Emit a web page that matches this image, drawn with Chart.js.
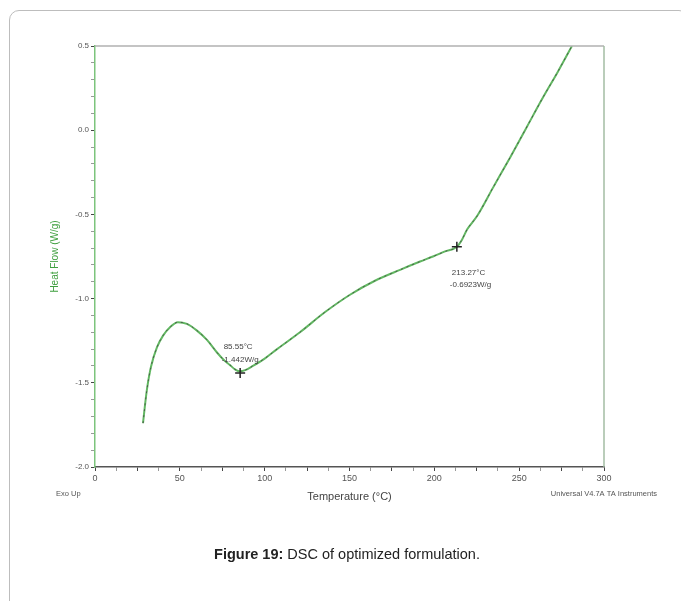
<!DOCTYPE html>
<html>
<head>
<meta charset="utf-8">
<script src="https://cdn.jsdelivr.net/npm/chart.js@4.4.1/dist/chart.umd.min.js"></script>
<style>
  body { margin: 0; background: #fff; }
  #frame { position: absolute; left: 9px; top: 10px; width: 680px; height: 640px;
           border: 1px solid #bdbdbd; border-radius: 10px; box-sizing: border-box; }
  #wrap { position: absolute; left: 0; top: 0; width: 681px; height: 601px; }
  #caption { position: absolute; left: 0; width: 694px; top: 546px; text-align: center;
             font-family: "Liberation Sans", Arial, sans-serif; font-size: 14.5px; color: #222; }
</style>
</head>
<body>
<div id="frame"></div>
<div id="wrap"><canvas id="dsc" width="681" height="601"></canvas></div>
<div id="caption"><b>Figure 19:</b> DSC of optimized formulation.</div>
<script>
// temperature (°C) and heat flow (W/g)
const temperature = [28.3, 29.5, 30.6, 33.0, 36.5, 40.1, 44.2, 48.9, 54.2, 60.1, 66.0, 71.9, 75.5, 79.6,
  82.5, 85.5, 88.5, 93.0, 100.2, 107.3, 120.8, 135.6, 150.3, 165.0, 179.8, 191.6, 199.2, 206.3, 213.3,
  216.3, 219.3, 225.2, 234.6, 244.6, 254.6, 264.0, 272.9, 281.1];
const heatFlow = [-1.74, -1.63, -1.54, -1.405, -1.29, -1.22, -1.17, -1.14, -1.15, -1.19, -1.245, -1.32,
  -1.36, -1.395, -1.42, -1.432, -1.425, -1.40, -1.355, -1.30, -1.20, -1.08, -0.977, -0.894, -0.829,
  -0.78, -0.75, -0.72, -0.692, -0.65, -0.59, -0.51, -0.341, -0.163, 0.021, 0.194, 0.349, 0.5];

// marked points
const markTemps = [85.55, 213.27];
const markFlows = [-1.442, -0.6923];
const markLabels = [['85.55°C', '-1.442W/g'], ['213.27°C', '-0.6923W/g']];

const trace = temperature.map((t, i) => ({ x: t, y: heatFlow[i] }));
const marks = markTemps.map((t, i) => ({ x: t, y: markFlows[i] }));

const textFont = '8px "Liberation Sans", Arial, sans-serif';

const extras = {
  id: 'extras',
  afterDraw(chart) {
    const { ctx, chartArea: a, scales } = chart;
    ctx.save();
    // top and right frame lines
    ctx.lineWidth = 1.5;
    ctx.strokeStyle = '#b0b0b0';
    ctx.beginPath(); ctx.moveTo(a.left, a.top); ctx.lineTo(a.right, a.top); ctx.stroke();
    ctx.strokeStyle = '#a3bca3';
    ctx.beginPath(); ctx.moveTo(a.right, a.top); ctx.lineTo(a.right, a.bottom); ctx.stroke();

    // point labels
    ctx.font = textFont;
    ctx.fillStyle = '#444';
    ctx.textBaseline = 'middle';
    markTemps.forEach((t, i) => {
      const px = scales.x.getPixelForValue(t);
      const py = scales.y.getPixelForValue(markFlows[i]);
      if (i === 0) {
        ctx.textAlign = 'center';
        ctx.fillText(markLabels[i][0], px - 2, py - 26);
        ctx.fillText(markLabels[i][1], px, py - 13);
      } else {
        ctx.textAlign = 'left';
        ctx.fillText(markLabels[i][0], px - 5, py + 26);
        ctx.fillText(markLabels[i][1], px - 7, py + 38);
      }
    });

    // instrument footer
    ctx.font = '7.5px "Liberation Sans", Arial, sans-serif';
    ctx.fillStyle = '#555';
    ctx.textAlign = 'left';
    ctx.fillText('Exo Up', a.left - 39, a.bottom + 27);
    ctx.textAlign = 'right';
    ctx.fillText('Universal V4.7A TA Instruments', a.right + 53, a.bottom + 27);
    ctx.restore();
  }
};

const isMultiple = (v, step) => Math.abs(v / step - Math.round(v / step)) < 1e-6;

new Chart(document.getElementById('dsc'), {
  type: 'line',
  data: {
    datasets: [
      {
        data: trace,
        borderColor: '#62b862',
        borderWidth: 2,
        pointRadius: 0,
        cubicInterpolationMode: 'monotone',
        order: 3
      },
      {
        data: trace,
        borderColor: '#4a5a4a',
        borderWidth: 1,
        borderDash: [2, 4],
        pointRadius: 0,
        cubicInterpolationMode: 'monotone',
        order: 2
      },
      {
        data: marks,
        showLine: false,
        pointStyle: 'cross',
        pointRadius: 5,
        pointBorderWidth: 1.5,
        pointBorderColor: '#222',
        order: 1
      }
    ]
  },
  options: {
    responsive: false,
    animation: false,
    layout: { padding: { left: 0, top: 46, right: 77, bottom: 94 } },
    plugins: { legend: { display: false }, tooltip: { enabled: false } },
    scales: {
      x: {
        type: 'linear',
        min: 0,
        max: 300,
        afterFit: s => { s.height = 40; },
        ticks: {
          stepSize: 12.5,
          autoSkip: false,
          maxRotation: 0,
          padding: 2,
          color: '#555',
          font: { family: '"Liberation Sans", Arial, sans-serif', size: 9 },
          callback: v => isMultiple(v, 50) ? String(v) : ''
        },
        grid: {
          drawOnChartArea: false,
          tickLength: 4,
          color: c => (c.tick && isMultiple(c.tick.value, 25)) ? '#444' : '#999'
        },
        border: { color: '#555', width: 1.5 },
        title: {
          display: true,
          text: 'Temperature (°C)',
          color: '#444',
          font: { family: '"Liberation Sans", Arial, sans-serif', size: 11 },
          padding: { top: 0, bottom: 3 }
        }
      },
      y: {
        min: -2,
        max: 0.5,
        afterFit: s => { s.width = 95; },
        ticks: {
          stepSize: 0.1,
          autoSkip: false,
          padding: 2,
          color: '#555',
          font: { family: '"Liberation Sans", Arial, sans-serif', size: 8 },
          callback: v => isMultiple(v, 0.5) ? (Math.abs(v) < 1e-9 ? 0 : v).toFixed(1) : ''
        },
        grid: {
          drawOnChartArea: false,
          tickLength: 4,
          color: c => (c.tick && isMultiple(c.tick.value, 0.5)) ? '#444' : '#999'
        },
        border: { color: '#7cc47c', width: 1.5 },
        title: {
          display: true,
          text: 'Heat Flow (W/g)',
          color: '#3f9f3f',
          font: { family: '"Liberation Sans", Arial, sans-serif', size: 10 },
          padding: { top: 49, bottom: 0 }
        }
      }
    }
  },
  plugins: [extras]
});
</script>
</body>
</html>
